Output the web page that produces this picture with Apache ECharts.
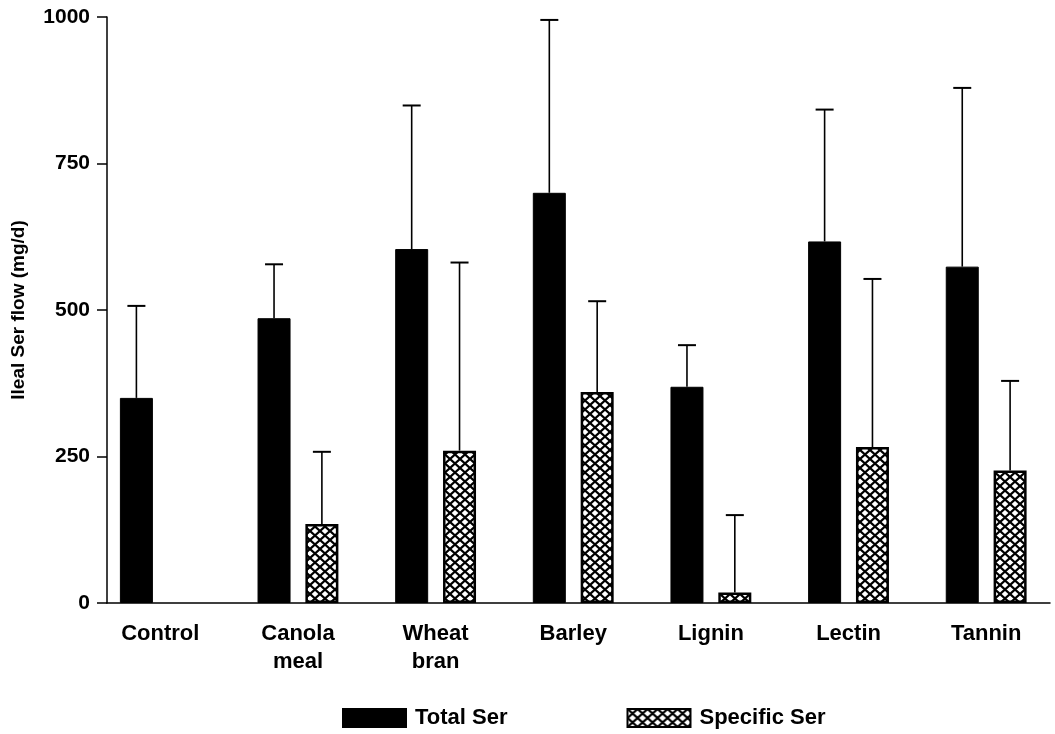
<!DOCTYPE html>
<html>
<head>
<meta charset="utf-8">
<script src="https://cdn.jsdelivr.net/npm/echarts@6/dist/echarts.min.js"></script>
<style>
  html, body { margin: 0; padding: 0; background: #fff; }
  #chart { width: 1055px; height: 734px; }
</style>
</head>
<body>
<div id="chart"></div>
<script>
// data
const categories = ['Control', 'Canola\nmeal', 'Wheat\nbran', 'Barley', 'Lignin', 'Lectin', 'Tannin'];
const totalSer = [350, 486, 604, 700, 369, 617, 574];
const totalErr = [157, 92, 245, 295, 71, 225, 305];
const specificSer = [null, 135, 260, 360, 18, 266, 226];
const specificErr = [null, 123, 321, 155, 132, 287, 153];
const yTicks = [0, 250, 500, 750, 1000];

const font = '"Liberation Sans", Arial, sans-serif';
const barW = 33;
const barGap = 0.45;
const half = barW * (1 + barGap) / 2; // centre offset of each bar in its group

// cross hatch fill
const hatch = document.createElement('canvas');
hatch.width = 10;
hatch.height = 9;
const hc = hatch.getContext('2d');
hc.fillStyle = '#fff';
hc.fillRect(0, 0, 10, 9);
hc.strokeStyle = '#000';
hc.lineWidth = 2.2;
hc.beginPath();
hc.moveTo(-1, -0.9); hc.lineTo(11, 9.9);
hc.moveTo(11, -0.9); hc.lineTo(-1, 9.9);
hc.stroke();

function errData(means, errs) {
    const out = [];
    means.forEach((m, i) => {
        if (m != null && errs[i] != null) out.push([i, m, errs[i]]);
    });
    return out;
}

function errSeries(name, means, errs, shift) {
    return {
        type: 'custom',
        name: name + ' err',
        xAxisIndex: 1,
        yAxisIndex: 1,
        z: 5,
        silent: true,
        data: errData(means, errs),
        renderItem: (params, api) => {
            const i = api.value(0);
            const m = api.value(1);
            const e = api.value(2);
            const p0 = api.coord([i, m]);
            const p1 = api.coord([i, m + e]);
            const x = p0[0] + shift;
            return {
                type: 'group',
                children: [
                    { type: 'line', shape: { x1: x, y1: p0[1], x2: x, y2: p1[1] }, style: { stroke: '#000', lineWidth: 1.6 } },
                    { type: 'line', shape: { x1: x - 9, y1: p1[1], x2: x + 9, y2: p1[1] }, style: { stroke: '#000', lineWidth: 2 } }
                ]
            };
        }
    };
}

const chart = echarts.init(document.getElementById('chart'));

const option = {
    backgroundColor: '#fff',
    animation: false,
    textStyle: { fontFamily: font },
    grid: [
        { left: 107, right: 5, top: 17, bottom: 131 },
        { left: 91.5, width: 987, top: 17, bottom: 131 }
    ],
    xAxis: [
        {
            type: 'value', gridIndex: 0, min: 0, max: 1,
            axisLine: { show: true, lineStyle: { color: '#000', width: 1.5 } },
            axisTick: { show: false }, axisLabel: { show: false }, splitLine: { show: false }
        },
        {
            type: 'category', gridIndex: 1, data: categories,
            axisLine: { show: false }, axisTick: { show: false }, splitLine: { show: false },
            axisLabel: {
                color: '#000', fontSize: 22, fontWeight: 'bold', margin: 17,
                lineHeight: 28, fontFamily: font
            }
        }
    ],
    yAxis: [
        {
            type: 'value', gridIndex: 0, min: yTicks[0], max: yTicks[yTicks.length - 1], interval: 250,
            name: 'Ileal Ser flow (mg/d)', nameLocation: 'middle', nameGap: 79,
            nameTextStyle: { color: '#000', fontSize: 19, fontWeight: 'bold', fontFamily: font },
            axisLine: { show: true, lineStyle: { color: '#000', width: 1.5 } },
            axisTick: { show: true, length: 10, lineStyle: { color: '#000', width: 1.5 } },
            axisLabel: {
                color: '#000', fontSize: 21, fontWeight: 'bold', margin: 17, fontFamily: font,
                formatter: v => String(v)
            },
            splitLine: { show: false }
        },
        {
            type: 'value', gridIndex: 1, min: 0, max: 1000, show: false
        }
    ],
    legend: {
        left: 337, top: 702,
        itemWidth: 63, itemHeight: 18, itemGap: 119,
        icon: 'rect',
        textStyle: { color: '#000', fontSize: 22, fontWeight: 'bold', fontFamily: font, padding: [0, 0, 0, 4] },
        data: ['Total Ser', 'Specific Ser']
    },
    series: [
        {
            name: 'Total Ser', type: 'bar', xAxisIndex: 1, yAxisIndex: 1,
            barWidth: barW, barGap: (barGap * 100) + '%',
            itemStyle: { color: '#000', borderColor: '#000', borderWidth: 1 },
            data: totalSer
        },
        {
            name: 'Specific Ser', type: 'bar', xAxisIndex: 1, yAxisIndex: 1,
            barWidth: barW, barGap: (barGap * 100) + '%',
            itemStyle: { color: { image: hatch, repeat: 'repeat' }, borderColor: '#000', borderWidth: 2.5 },
            data: specificSer
        },
        errSeries('Total Ser', totalSer, totalErr, -half),
        errSeries('Specific Ser', specificSer, specificErr, half)
    ]
};

chart.setOption(option);
</script>
</body>
</html>
